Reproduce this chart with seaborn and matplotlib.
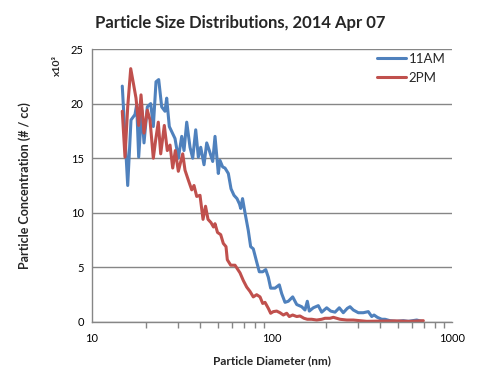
import matplotlib
matplotlib.use("Agg")
import matplotlib.pyplot as plt
import matplotlib.ticker as mticker
import seaborn as sns
import pandas as pd

# diameters (nm) and concentrations (x10^3 / cc)
diam_11am = [14.73, 15.79, 16.47, 17.33, 17.71, 18.17, 18.89, 19.45, 20.29, 21.19,
             21.91, 22.68, 23.47, 24.39, 25.44, 26.00, 26.88, 28.92, 30.17, 31.51,
             32.45, 33.59, 35.04, 36.27, 37.69, 38.97, 40.18, 41.91, 43.38, 44.85,
             46.84, 48.24, 50.32, 51.4, 53.2, 54.8, 57.2, 59.2, 61.5, 63.9,
             66.0, 67.0, 68.6, 70.8, 73.8, 76.1, 78.7, 82.2, 85.0, 88.8,
             92.3, 95.4, 98.3, 103.9, 109.8, 113.2, 118.1, 123.2, 130.3, 137.2,
             146.2, 152.5, 157.1, 161.2, 169.6, 180.8, 188.8, 201.3, 211.9, 223.9,
             236.5, 248.9, 262.0, 271.3, 282.9, 301.6, 321.5, 342.8, 358.1, 368.8,
             384.6, 406.9, 424.5, 452.5, 493.0, 536.3, 571.8, 636.8, 678.9]
conc_11am = [21.6, 12.5, 18.5, 19.0, 19.9, 15.1, 19.4, 16.4, 19.7, 20.0,
             17.9, 22.0, 22.2, 19.7, 19.3, 20.5, 17.9, 16.8, 15.0, 17.0,
             15.7, 18.3, 16.0, 15.0, 17.6, 15.1, 16.0, 14.4, 16.4, 15.7,
             14.7, 17.0, 13.6, 14.8, 14.2, 14.1, 13.6, 12.2, 11.6, 11.3,
             10.8, 10.4, 11.3, 10.0, 8.4, 6.9, 6.7, 5.5, 4.6, 4.6,
             4.8, 4.1, 3.1, 3.1, 3.4, 2.6, 1.8, 1.9, 2.3, 1.6,
             1.4, 1.1, 1.9, 1.0, 1.3, 1.5, 0.9, 1.3, 1.0, 0.9,
             1.3, 0.85, 1.25, 1.4, 1.1, 0.85, 0.85, 0.95, 0.5, 0.64,
             0.43, 0.25, 0.25, 0.12, 0.06, 0.12, 0.06, 0.18, 0.06]

diam_2pm = [14.73, 15.25, 15.79, 16.41, 16.96, 17.56, 18.17, 18.72, 19.45, 20.29,
            21.00, 21.91, 22.59, 23.35, 24.08, 25.22, 26.20, 27.13, 28.08, 29.03,
            30.17, 31.91, 32.87, 34.28, 35.81, 36.87, 38.17, 39.81, 41.38, 42.73,
            44.11, 45.83, 47.32, 48.24, 49.81, 51.88, 53.63, 55.52, 56.46, 58.97,
            62.30, 66.41, 69.27, 72.35, 75.47, 78.7, 82.2, 85.77, 88.8, 91.44,
            95.4, 98.3, 101.7, 106.2, 110.8, 115.6, 120.7, 124.8, 130.3, 137.2,
            143.1, 150.6, 157.1, 166.2, 177.1, 188.8, 197.0, 210.0, 219.1, 228.8,
            238.7, 260.0, 282.9, 308.3, 335.9, 398.1, 482.4, 584.5, 693.0]
conc_2pm = [19.3, 15.1, 19.7, 23.2, 21.9, 20.5, 18.0, 20.8, 17.3, 19.4,
            18.5, 15.0, 16.7, 18.3, 15.4, 18.0, 15.7, 16.2, 14.1, 15.7,
            13.8, 15.4, 13.9, 13.0, 12.1, 12.5, 11.5, 11.6, 9.4, 10.6,
            9.4, 9.1, 8.7, 9.0, 8.2, 8.0, 7.2, 6.9, 5.7, 5.2,
            5.2, 4.5, 3.8, 3.2, 2.8, 2.3, 2.5, 2.3, 1.7, 1.8,
            1.25, 0.8, 0.95, 1.0, 0.85, 0.64, 0.8, 0.5, 0.64, 0.5,
            0.55, 0.34, 0.25, 0.25, 0.18, 0.25, 0.34, 0.34, 0.43, 0.34,
            0.25, 0.18, 0.18, 0.12, 0.06, 0.08, 0.1, 0.06, 0.12]

series_names = ["11AM", "2PM"]
colors = ["#4F81BD", "#C0504D"]

df = pd.concat([
    pd.DataFrame({"diam": diam_11am, "conc": conc_11am, "time": series_names[0]}),
    pd.DataFrame({"diam": diam_2pm, "conc": conc_2pm, "time": series_names[1]}),
])

sns.set_style("white")
plt.rcParams["font.family"] = ["Lato", "DejaVu Sans"]

fig = plt.figure(figsize=(4.81, 3.85), dpi=100)
ax = fig.add_axes([92 / 481, 63 / 385, 360 / 481, 273 / 385])

sns.lineplot(data=df, x="diam", y="conc", hue="time", palette=dict(zip(series_names, colors)),
             estimator=None, sort=False, linewidth=2.2, ax=ax)

ax.set_xscale("log")
ax.set_xlim(10, 1000)
ax.set_ylim(0, 25)
ax.set_yticks([0, 5, 10, 15, 20, 25])
ax.xaxis.set_major_formatter(mticker.FormatStrFormatter("%d"))
ax.xaxis.set_minor_formatter(mticker.NullFormatter())
ax.yaxis.grid(True, color="#868686", linewidth=1.0)
ax.set_axisbelow(True)

for side in ["top", "right"]:
    ax.spines[side].set_visible(False)
for side in ["left", "bottom"]:
    ax.spines[side].set_color("#868686")
    ax.spines[side].set_linewidth(1.0)

ax.tick_params(axis="both", which="both", direction="out", color="#868686",
               length=4, width=1, labelsize=8, labelcolor="black", pad=2)
ax.tick_params(axis="x", which="minor", bottom=True)
ax.tick_params(axis="x", pad=4)
ax.set_xlabel("")
ax.set_ylabel("")

leg = ax.legend(loc="upper right", bbox_to_anchor=(1.015, 1.03), frameon=False,
                fontsize=9.5, handlelength=2.2, handletextpad=0.2, labelspacing=0.55)

fig.text(0.499, 0.940, "Particle Size Distributions, 2014 Apr 07", ha="center", va="center",
         fontsize=12, fontweight="bold")
fig.text(0.5655, 0.0623, "Particle Diameter (nm)", ha="center", va="center",
         fontsize=8.5, fontweight="bold")
fig.text(0.052, 0.517, "Particle Concentration (# / cc)", ha="center", va="center",
         rotation=90, fontsize=9, fontweight="bold")
fig.text(0.1185, 0.831, "x10\u00b3", ha="center", va="center", rotation=90,
         fontsize=7.5, fontweight="bold")

fig.savefig("out.png", dpi=100)
